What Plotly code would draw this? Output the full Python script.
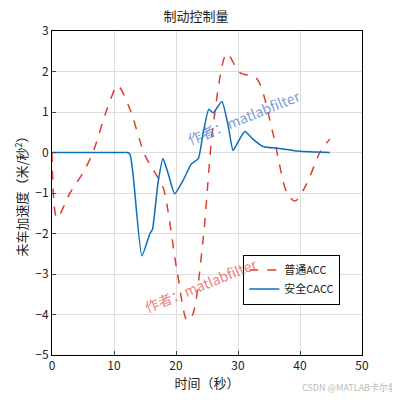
import plotly.graph_objects as go

t_acc = [0, 0.8, 2.9, 5, 6.6, 8.9, 10.6, 12.5, 15, 17, 18, 20.2, 21.8, 22.7, 24.4, 26, 28.2, 30.3, 33, 35.6, 37.9, 39.2, 41, 43.2, 44.8]
a_acc = [0, -1.62, -1.0, -0.5, 0, 1.08, 1.65, 1.1, -0.07, -0.6, -0.9, -2.96, -4.15, -4.0, -2.1, 0.67, 2.44, 1.97, 1.83, 0.5, -1.0, -1.2, -0.8, 0, 0.33]
t_cacc = [0, 4, 8, 11, 12.2, 12.6, 13.1, 14.5, 15.8, 16.2, 17.1, 17.9, 18.7, 19.8, 21.1, 22.5, 23.6, 24.4, 25.3, 26, 27.4, 28.4, 29.2, 29.8, 31.1, 32.4, 34, 36.6, 39.9, 44.8]
a_cacc = [0, 0, 0, 0, 0, -0.05, -0.57, -2.55, -2.0, -1.9, -0.75, -0.15, -0.5, -1.02, -0.7, -0.28, -0.15, 0.5, 1.07, 0.98, 1.26, 0.67, 0.05, 0.2, 0.52, 0.33, 0.15, 0.1, 0.03, 0]

font = "Noto Sans CJK SC"
fig = go.Figure()
fig.add_trace(go.Scatter(x=t_acc, y=a_acc, mode="lines", name="普通ACC",
                         line=dict(color="#d9412f", dash="dash", width=1.5, shape="spline", smoothing=0.8)))
fig.add_trace(go.Scatter(x=t_cacc, y=a_cacc, mode="lines", name="安全CACC",
                         line=dict(color="#0d6eb8", width=1.5, shape="spline", smoothing=0.5)))
ax = dict(showline=True, linecolor="black", mirror=True, ticks="inside", ticklen=4,
          gridcolor="#dddddd", zeroline=False, tickfont=dict(size=12, color="#222"), automargin=False)
fig.update_layout(
    width=400, height=400, margin=dict(l=44, r=46, t=23, b=53),
    plot_bgcolor="white", paper_bgcolor="white", font=dict(family=font, color="#222"),
    title=dict(text="制动控制量", x=0.47, xanchor="center", y=0.99, yanchor="top", font=dict(size=13)),
    xaxis=dict(range=[0, 50], dtick=10, title=dict(text="时间（秒）", font=dict(size=13), standoff=4), **ax),
    yaxis=dict(range=[-5, 3], dtick=1, title=dict(text="未车加速度（米/秒<sup>2</sup>）", font=dict(size=13), standoff=4), **ax),
    legend=dict(x=0.93, y=0.31, xanchor="right", yanchor="top", bgcolor="white",
                bordercolor="black", borderwidth=1, font=dict(size=11)),
    showlegend=True,
)
fig.add_annotation(x=0.82, y=0.84, xref="paper", yref="paper", text="作者：matlabfilter", showarrow=False,
                   textangle=-22, font=dict(size=14, color="rgba(70,120,200,0.75)"))
fig.add_annotation(x=0.28, y=0.11, xref="paper", yref="paper", text="作者：matlabfilter", showarrow=False,
                   textangle=-22, font=dict(size=14, color="rgba(230,80,80,0.75)"))
fig.add_annotation(x=1.12, y=-0.125, xref="paper", yref="paper", xanchor="right", text="CSDN @MATLAB卡尔曼",
                   showarrow=False, font=dict(size=9, color="#bbbbbb"))
fig.write_html("out.html")
